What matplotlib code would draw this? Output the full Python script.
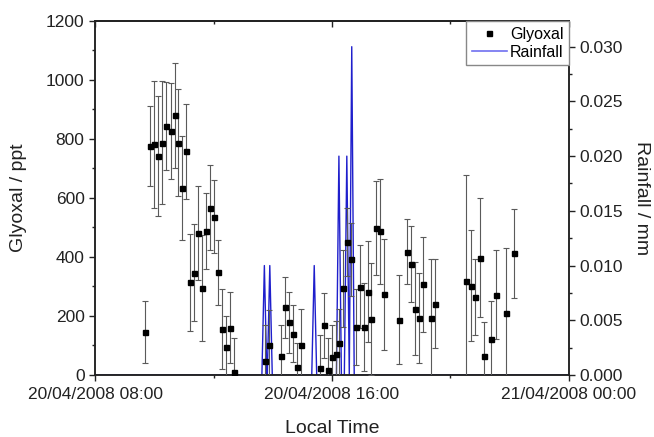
import matplotlib
matplotlib.use("Agg")
import matplotlib.pyplot as plt
import matplotlib.dates as mdates
from matplotlib.lines import Line2D
from matplotlib.ticker import MultipleLocator, FormatStrFormatter, NullFormatter
import pandas as pd

plt.rcParams['font.family'] = ['Liberation Sans', 'DejaVu Sans']

# Glyoxal measurements (local time on 20/04/2008), ppt, with error
gly_times = ["09:41", "09:52", "10:00", "10:08", "10:16", "10:24", "10:33", "10:41",
             "10:49", "10:57", "11:05", "11:13", "11:21", "11:29", "11:37", "11:45",
             "11:53", "12:01", "12:09", "12:17", "12:25", "12:33", "12:42",
             "13:44", "13:53", "14:16", "14:24", "14:32", "14:40", "14:49", "14:57",
             "15:36", "15:44", "15:52", "16:00", "16:08", "16:15", "16:23", "16:31",
             "16:39", "16:48", "16:56", "17:04", "17:12", "17:20", "17:29", "17:37",
             "17:45", "18:16", "18:32", "18:39", "18:48", "18:56", "19:04", "19:20",
             "19:28", "20:31", "20:42", "20:50", "21:00", "21:08", "21:22", "21:32",
             "21:52", "22:09"]
gly_vals = [147, 776, 782, 741, 788, 844, 827, 881,
            788, 634, 759, 314, 347, 482, 296, 488,
            567, 537, 348, 155, 96, 160, 9,
            48, 103, 64, 229, 178, 140, 28, 103,
            22, 169, 17, 60, 72, 107, 294, 452,
            392, 163, 299, 163, 283, 189, 499, 488,
            274, 187, 418, 376, 225, 194, 307, 192,
            242, 320, 302, 264, 398, 66, 121, 272,
            210, 412]
gly_err = [105, 137, 215, 203, 207, 150, 163, 178,
           182, 177, 161, 164, 165, 160, 180, 130,
           145, 125, 110, 135, 105, 120, 115,
           120, 118, 105, 104, 104, 96, 80, 120,
           115, 110, 108, 110, 110, 115, 130, 115,
           123, 128, 140, 150, 170, 190, 160, 178,
           188, 151, 111, 129, 157, 153, 161, 200,
           150, 358, 188, 128, 203, 115, 129, 150,
           219, 150]

# Rainfall (mm), 5-minute record
rain_times = ["08:00", "13:38", "13:43", "13:48", "13:49", "13:54", "13:59",
              "15:19", "15:24", "15:29", "16:09", "16:14", "16:19",
              "16:25", "16:30", "16:35", "16:40", "16:45", "23:59"]
rain_vals = [0.0, 0.0, 0.010, 0.0, 0.0, 0.010, 0.0,
             0.0, 0.010, 0.0, 0.0, 0.020, 0.0,
             0.0, 0.020, 0.0, 0.030, 0.0, 0.0]

day = "2008-04-20 "
gt = pd.to_datetime([day + t for t in gly_times])
rt = pd.to_datetime([day + t for t in rain_times])

fig = plt.figure(figsize=(6.54, 4.37), dpi=100)
ax = fig.add_axes([0.1453, 0.1419, 0.7247, 0.8101])
ax2 = ax.twinx()

ax2.plot(rt, rain_vals, color='#1f1fcc', lw=1.0, zorder=1)

ax.errorbar(gt, gly_vals, yerr=gly_err, fmt='s', color='black', ms=3.6,
            ecolor='#5a5a5a', elinewidth=0.8, capsize=2.5, capthick=0.8, zorder=3)
ax.set_zorder(ax2.get_zorder() + 1)
ax.patch.set_visible(False)

x0 = pd.Timestamp("2008-04-20 08:00")
x1 = pd.Timestamp("2008-04-21 00:00")
ax.set_xlim(x0, x1)
ax.set_ylim(0, 1200)
ax2.set_ylim(0, 0.03235)

ax.xaxis.set_major_locator(mdates.HourLocator(byhour=[0, 8, 16]))
ax.xaxis.set_minor_locator(mdates.HourLocator(byhour=[4, 12, 20]))
ax.xaxis.set_major_formatter(mdates.DateFormatter("%d/%m/%Y %H:%M"))
ax.yaxis.set_major_locator(MultipleLocator(200))
ax.yaxis.set_minor_locator(MultipleLocator(100))
ax2.yaxis.set_major_locator(MultipleLocator(0.005))
ax2.yaxis.set_minor_locator(MultipleLocator(0.0025))
ax2.yaxis.set_major_formatter(FormatStrFormatter('%.3f'))

for a in (ax, ax2):
    for s in a.spines.values():
        s.set_linewidth(1.1)
        s.set_color('#222222')

ax.tick_params(axis='both', which='major', direction='out', length=4, width=1.0,
               labelsize=12.5, colors='#222222')
ax.tick_params(axis='both', which='minor', direction='out', length=2.5, width=1.0,
               colors='#222222')
ax.tick_params(axis='x', which='both', top=False, labeltop=False)
ax2.tick_params(axis='y', which='major', direction='out', length=4, width=1.0,
                labelsize=12.5, colors='#222222')
ax2.tick_params(axis='y', which='minor', direction='out', length=2.5, width=1.0,
                colors='#222222')
ax.xaxis.set_tick_params(which='both', pad=4.5)

# top axis: inward ticks, no labels
sec = ax.secondary_xaxis('top')
sec.xaxis.set_major_locator(mdates.HourLocator(byhour=[0, 8, 16]))
sec.xaxis.set_minor_locator(mdates.HourLocator(byhour=[4, 12, 20]))
sec.xaxis.set_major_formatter(NullFormatter())
sec.tick_params(axis='x', which='major', direction='in', length=4, width=1.0,
                colors='#222222')
sec.tick_params(axis='x', which='minor', direction='in', length=2.5, width=1.0,
                colors='#222222')
sec.spines['top'].set_linewidth(1.1)
sec.spines['top'].set_color('#222222')

ax.set_xlabel("Local Time", fontsize=14, color='#222222', va='center')
ax.xaxis.set_label_coords(0.5, -0.15)
ax.set_ylabel("Glyoxal / ppt", fontsize=14, color='#222222', va='center')
ax.yaxis.set_label_coords(-0.162, 0.5)
ax2.set_ylabel("Rainfall / mm", fontsize=14, rotation=270, color='#222222',
               va='center', ha='center')
ax2.yaxis.set_label_coords(1.152, 0.5)

handles = [Line2D([], [], marker='s', color='black', ls='none', ms=3.6),
           Line2D([], [], color='#7070f0', lw=1.2)]
leg = ax.legend(handles, ["Glyoxal", "Rainfall"], loc='upper right',
                bbox_to_anchor=(1.0, 1.0), borderaxespad=0, fancybox=False,
                framealpha=1, edgecolor='#888888', fontsize=11.5,
                handlelength=2.2, handletextpad=0.2, borderpad=0.35,
                labelspacing=0.2, markerfirst=True)
leg.get_frame().set_linewidth(1.0)

fig.savefig("out.png", dpi=100)
